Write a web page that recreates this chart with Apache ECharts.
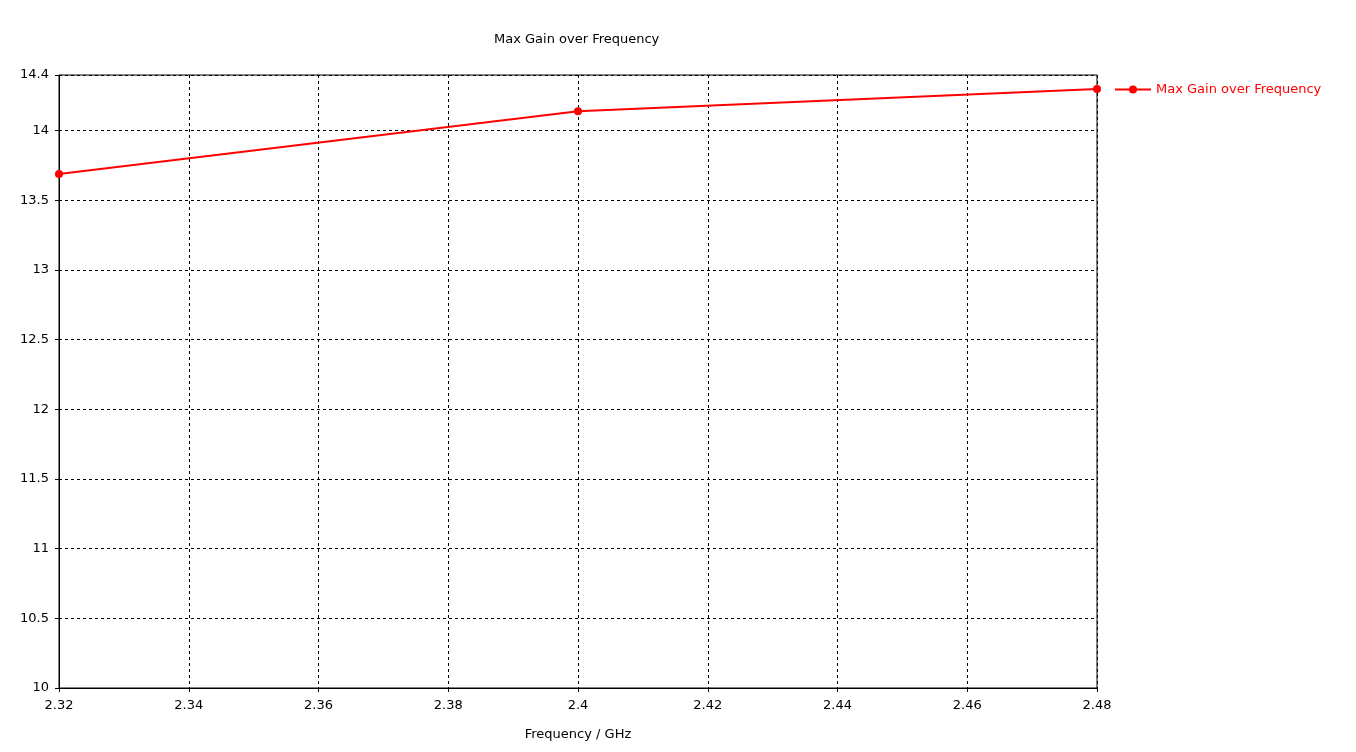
<!DOCTYPE html>
<html>
<head>
<meta charset="utf-8">
<script src="https://cdn.jsdelivr.net/npm/echarts@6/dist/echarts.min.js"></script>
<style>html,body{margin:0;padding:0;background:#fff;}#c{width:1356px;height:752px;}</style>
</head>
<body>
<div id="c"></div>
<script>
const frequencies = [2.32, 2.40, 2.48];
const maxGain = [13.69, 14.14, 14.30];
const seriesName = 'Max Gain over Frequency';
const titleText = 'Max Gain over Frequency';
const xAxisName = 'Frequency / GHz';

const font = 'DejaVu Sans, Tahoma, sans-serif';
const chart = echarts.init(document.getElementById('c'));
chart.setOption({
  animation: false,
  backgroundColor: '#fff',
  title: {
    text: titleText, left: 489, top: 28,
    textStyle: {fontFamily: font, fontSize: 13, fontWeight: 'normal', color: '#000'}
  },
  legend: {
    left: 1109, top: 78, itemWidth: 36, itemHeight: 10, itemGap: 5,
    textStyle: {fontFamily: font, fontSize: 13, color: '#ff0000'},
    data: [seriesName]
  },
  grid: {left: 59, right: 259, top: 75, bottom: 64, show: true, borderColor: '#000', borderWidth: 1},
  xAxis: {
    type: 'value', min: 2.32, max: 2.48, interval: 0.02,
    name: xAxisName, nameLocation: 'middle', nameGap: 40,
    nameTextStyle: {fontFamily: font, fontSize: 13, color: '#000'},
    axisLine: {lineStyle: {color: '#000'}},
    axisTick: {show: true, length: 4, lineStyle: {color: '#000'}},
    axisLabel: {fontFamily: font, fontSize: 13, color: '#000', margin: 11,
      formatter: v => String(Math.round(v * 100) / 100)},
    splitLine: {show: true, lineStyle: {color: '#000', type: [3, 3], width: 1}}
  },
  yAxis: {
    type: 'value', min: 10, max: 14.4, interval: 0.5,
    axisLine: {show: true, lineStyle: {color: '#000'}},
    axisTick: {show: true, length: 4, lineStyle: {color: '#000'}},
    axisLabel: {fontFamily: font, fontSize: 13, color: '#000', margin: 10,
      formatter: v => String(Math.round(v * 10) / 10)},
    splitLine: {show: true, lineStyle: {color: '#000', type: [3, 3], width: 1}}
  },
  series: [{
    name: seriesName, type: 'line',
    data: frequencies.map((f, i) => [f, maxGain[i]]),
    symbol: 'circle', symbolSize: 8, showSymbol: true,
    lineStyle: {color: '#ff0000', width: 2},
    itemStyle: {color: '#ff0000'}
  }]
});
</script>
</body>
</html>
